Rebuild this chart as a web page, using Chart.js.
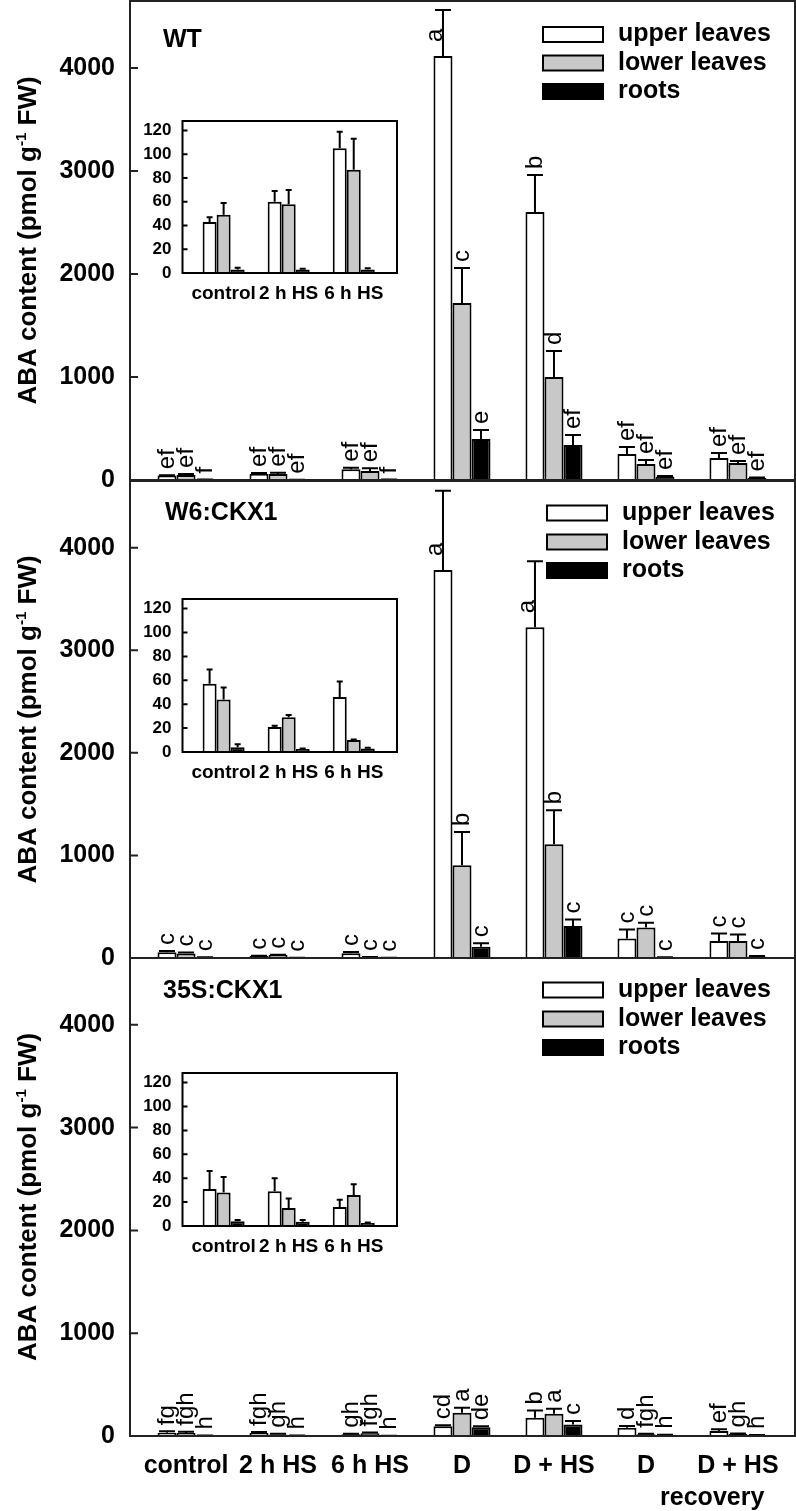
<!DOCTYPE html>
<html>
<head>
<meta charset="utf-8">
<script src="https://cdn.jsdelivr.net/npm/chart.js@4"></script>
<style>
  body { margin: 0; background: #fff; }
  #wrap { position: relative; width: 796px; height: 1511px; overflow: hidden; background: #fff; }
  canvas { position: absolute; }
</style>
</head>
<body>
<div id="wrap">
  <canvas id="mainWT" width="796" height="495" style="left:0;top:0"></canvas>
  <canvas id="mainW6" width="796" height="494" style="left:0;top:479px"></canvas>
  <canvas id="main35S" width="796" height="555" style="left:0;top:956px"></canvas>
  <canvas id="insetWT" width="282" height="192" style="left:120px;top:115px"></canvas>
  <canvas id="insetW6" width="282" height="193" style="left:120px;top:593px"></canvas>
  <canvas id="inset35S" width="282" height="193" style="left:120px;top:1067px"></canvas>
</div>
<script>
const categories = ['control', '2 h HS', '6 h HS', 'D', 'D + HS', 'D', 'D + HS'];
const seriesNames = ['upper leaves', 'lower leaves', 'roots'];
const mainTicks = [0, 1000, 2000, 3000, 4000];
const insetTicks = [0, 20, 40, 60, 80, 100, 120];

// WT
const wtUpper = [43, 60, 105, 4117, 2602, 252, 213];
const wtUpperErr = [4, 9, 14, 446, 359, 68, 49];
const wtLower = [49, 58, 87, 1718, 1000, 155, 165];
const wtLowerErr = [10, 12, 26, 340, 252, 39, 20];
const wtRoots = [3, 3, 3, 398, 340, 35, 20];
const wtRootsErr = [1.5, 0.5, 1, 87, 97, 5, 5];
const wtUpperSig = ['ef', 'ef', 'ef', 'a', 'b', 'ef', 'ef'];
const wtLowerSig = ['ef', 'ef', 'ef', 'c', 'd', 'ef', 'ef'];
const wtRootsSig = ['f', 'ef', 'f', 'e', 'ef', 'ef', 'ef'];

// W6:CKX1
const w6Upper = [57, 21, 46, 3783, 3224, 191, 165];
const w6UpperErr = [12, 1, 13, 772, 643, 88, 75];
const w6Lower = [44, 29, 10, 905, 1110, 298, 165];
const w6LowerErr = [10, 2, 0.5, 324, 330, 46, 65];
const w6Roots = [4, 2.5, 3, 110, 311, 5, 15];
const w6RootsErr = [2.5, 0.5, 0.5, 33, 65, 2, 5];
const w6UpperSig = ['c', 'c', 'c', 'a', 'a', 'c', 'c'];
const w6LowerSig = ['c', 'c', 'c', 'b', 'b', 'c', 'c'];
const w6RootsSig = ['c', 'c', 'c', 'c', 'c', 'c', 'c'];

// 35S:CKX1
const s35Upper = [31, 29, 16, 95, 178, 81, 49];
const s35UpperErr = [15, 11, 6, 10, 71, 16, 16];
const s35Lower = [28, 15, 26, 227, 217, 16, 20];
const s35LowerErr = [13, 8, 9, 48, 49, 5, 5];
const s35Roots = [4, 3.5, 2.5, 85, 113, 10, 8];
const s35RootsErr = [1, 1.5, 0.5, 10, 33, 2, 2];
const s35UpperSig = ['fg', 'fgh', 'gh', 'cd', 'b', 'd', 'ef'];
const s35LowerSig = ['fgh', 'gh', 'fgh', 'a', 'a', 'fgh', 'gh'];
const s35RootsSig = ['h', 'h', 'h', 'de', 'c', 'h', 'h'];

const fills = ['#ffffff', '#c8c8c8', '#000000'];
const FONT = '"Liberation Sans", Arial, sans-serif';

Chart.defaults.font.family = FONT;
Chart.defaults.font.weight = 'bold';
Chart.defaults.color = '#000';

function barSets(values, errors, letters, pct) {
    return values.map(function (vals, k) {
        return {
            label: seriesNames[k],
            data: vals.map(function (v, i) { return { x: i, y: v }; }),
            errors: errors[k],
            letters: letters ? letters[k] : null,
            backgroundColor: fills[k],
            borderColor: '#000',
            borderWidth: 2,
            borderSkipped: 'start',
            categoryPercentage: pct,
            barPercentage: 1
        };
    });
}

function noPad(s) {
    s.paddingTop = 0; s.paddingBottom = 0; s.paddingLeft = 0; s.paddingRight = 0;
}

// frame round the plot area and inward y ticks
function framePlugin(tickLen, color) {
    return {
        id: 'frame',
        afterDraw: function (chart) {
            const a = chart.chartArea, ctx = chart.ctx, y = chart.scales.y;
            ctx.save();
            ctx.strokeStyle = color;
            ctx.lineWidth = 2;
            ctx.strokeRect(a.left, a.top, a.right - a.left, a.bottom - a.top);
            ctx.beginPath();
            y.ticks.forEach(function (t) {
                const py = y.getPixelForValue(t.value);
                ctx.moveTo(a.left, py);
                ctx.lineTo(a.left + tickLen, py);
            });
            ctx.stroke();
            ctx.restore();
        }
    };
}

// upper whiskers plus significance letters
function errorPlugin(cap) {
    return {
        id: 'errorBars',
        afterDatasetsDraw: function (chart) {
            const ctx = chart.ctx, y = chart.scales.y;
            ctx.save();
            ctx.strokeStyle = '#000';
            ctx.fillStyle = '#000';
            ctx.lineWidth = 2;
            chart.data.datasets.forEach(function (ds, k) {
                const meta = chart.getDatasetMeta(k);
                meta.data.forEach(function (bar, i) {
                    const v = ds.data[i].y, e = ds.errors[i];
                    const top = y.getPixelForValue(v + e);
                    ctx.beginPath();
                    ctx.moveTo(bar.x, bar.y);
                    ctx.lineTo(bar.x, top);
                    ctx.moveTo(bar.x - cap / 2, top);
                    ctx.lineTo(bar.x + cap / 2, top);
                    ctx.stroke();
                    if (!ds.letters) return;
                    let lx = bar.x, ly = top - 6;
                    if (e > 400) { lx = bar.x - 8; ly = bar.y - 14; }
                    ctx.save();
                    ctx.translate(lx, ly);
                    ctx.rotate(-Math.PI / 2);
                    ctx.font = '24px ' + FONT;
                    ctx.textAlign = 'left';
                    ctx.textBaseline = 'middle';
                    ctx.fillText(ds.letters[i], 0, 0);
                    ctx.restore();
                });
            });
            ctx.restore();
        }
    };
}

function decorPlugin(p) {
    return {
        id: 'decor',
        afterDraw: function (chart) {
            const ctx = chart.ctx, a = chart.chartArea;
            ctx.save();
            ctx.fillStyle = '#000';
            ctx.textAlign = 'left';
            ctx.textBaseline = 'middle';
            ctx.font = 'bold 25px ' + FONT;
            ctx.fillText(p.name, p.nameX, a.top + p.nameDy);

            ctx.lineWidth = 2;
            ctx.strokeStyle = '#000';
            p.legendRows.forEach(function (dy, k) {
                const cy = a.top + dy;
                ctx.fillStyle = fills[k];
                ctx.fillRect(p.boxX, cy - 7.5, 60, 15);
                ctx.strokeRect(p.boxX, cy - 7.5, 60, 15);
                ctx.fillStyle = '#000';
                ctx.fillText(seriesNames[k], p.boxX + 75, cy);
            });

            if (p.recovery) {
                ctx.textAlign = 'center';
                ctx.fillText('recovery', chart.scales.x.getPixelForValue(5.72), a.bottom + 62);
            }

            // y title with superscript
            const big = 'bold 26px ' + FONT, small = 'bold 15px ' + FONT;
            const s1 = 'ABA content (pmol g', s2 = '-1', s3 = ' FW)';
            ctx.font = big;
            const w1 = ctx.measureText(s1).width, w3 = ctx.measureText(s3).width;
            ctx.font = small;
            const w2 = ctx.measureText(s2).width;
            ctx.translate(36, (a.top + a.bottom) / 2);
            ctx.rotate(-Math.PI / 2);
            ctx.textAlign = 'left';
            ctx.textBaseline = 'alphabetic';
            let x = -(w1 + w2 + w3) / 2;
            ctx.font = big; ctx.fillText(s1, x, 0); x += w1;
            ctx.font = small; ctx.fillText(s2, x, -10); x += w2;
            ctx.font = big; ctx.fillText(s3, x, 0);
            ctx.restore();
        }
    };
}

function plainNumber(v) { return String(v); }

function mainChart(id, values, errors, letters, p, pad) {
    return new Chart(document.getElementById(id), {
        type: 'bar',
        data: { datasets: barSets(values, errors, letters, 0.62) },
        options: {
            responsive: false,
            animation: false,
            events: [],
            layout: { padding: pad },
            plugins: { legend: { display: false }, tooltip: { enabled: false } },
            scales: {
                x: {
                    type: 'linear', min: -0.609, max: 6.62, offset: false,
                    grid: { display: false, drawTicks: false, offset: false },
                    border: { display: false },
                    ticks: {
                        display: p.showX, autoSkip: false, maxRotation: 0, padding: 15,
                        font: { size: 25, weight: 'bold' },
                        callback: function (v) { return categories[v] || ''; }
                    },
                    afterBuildTicks: function (s) { s.ticks = categories.map(function (c, i) { return { value: i }; }); },
                    afterFit: function (s) { s.height = p.showX ? 75 : 0; noPad(s); }
                },
                y: {
                    min: 0, max: 4650,
                    grid: { display: false, drawTicks: false },
                    border: { display: false },
                    ticks: { padding: 15, font: { size: 25, weight: 'bold' }, callback: plainNumber },
                    afterBuildTicks: function (s) { s.ticks = mainTicks.map(function (v) { return { value: v }; }); },
                    afterFit: function (s) { s.width = 130; noPad(s); }
                }
            }
        },
        plugins: [framePlugin(8, '#222'), errorPlugin(16), decorPlugin(p)]
    });
}

function insetChart(id, values, errors) {
    const short = values.map(function (v) { return v.slice(0, 3); });
    const shortErr = errors.map(function (v) { return v.slice(0, 3); });
    return new Chart(document.getElementById(id), {
        type: 'bar',
        data: { datasets: barSets(short, shortErr, null, 0.646) },
        options: {
            responsive: false,
            animation: false,
            events: [],
            layout: { padding: { top: 6, right: 5, bottom: 6, left: 0 } },
            plugins: { legend: { display: false }, tooltip: { enabled: false } },
            scales: {
                x: {
                    type: 'linear', min: -0.632, max: 2.665, offset: false,
                    grid: { display: false, drawTicks: false, offset: false },
                    border: { display: false },
                    ticks: {
                        autoSkip: false, maxRotation: 0, padding: 9,
                        font: { size: 19, weight: 'bold' },
                        callback: function (v) { return categories[v] || ''; }
                    },
                    afterBuildTicks: function (s) { s.ticks = [0, 1, 2].map(function (i) { return { value: i }; }); },
                    afterFit: function (s) { s.height = 28; noPad(s); }
                },
                y: {
                    min: 0, max: 128,
                    grid: { display: false, drawTicks: false },
                    border: { display: false },
                    ticks: { padding: 11, font: { size: 17, weight: 'bold' }, callback: plainNumber },
                    afterBuildTicks: function (s) { s.ticks = insetTicks.map(function (v) { return { value: v }; }); },
                    afterFit: function (s) { s.width = 62.5; noPad(s); }
                }
            }
        },
        plugins: [framePlugin(5, '#000'), errorPlugin(6)]
    });
}

const wtVals = [wtUpper, wtLower, wtRoots], wtErrs = [wtUpperErr, wtLowerErr, wtRootsErr];
const w6Vals = [w6Upper, w6Lower, w6Roots], w6Errs = [w6UpperErr, w6LowerErr, w6RootsErr];
const s35Vals = [s35Upper, s35Lower, s35Roots], s35Errs = [s35UpperErr, s35LowerErr, s35RootsErr];

mainChart('mainWT', wtVals, wtErrs, [wtUpperSig, wtLowerSig, wtRootsSig],
    { name: 'WT', nameX: 163, nameDy: 39, boxX: 543, legendRows: [33.5, 62, 90.5], showX: false },
    { top: 1, right: 1, bottom: 15, left: 0 });
mainChart('mainW6', w6Vals, w6Errs, [w6UpperSig, w6LowerSig, w6RootsSig],
    { name: 'W6:CKX1', nameX: 165, nameDy: 32, boxX: 547, legendRows: [32, 61, 89.5], showX: false },
    { top: 2, right: 1, bottom: 15, left: 0 });
mainChart('main35S', s35Vals, s35Errs, [s35UpperSig, s35LowerSig, s35RootsSig],
    { name: '35S:CKX1', nameX: 163, nameDy: 33, boxX: 543, legendRows: [32, 61, 89.5], showX: true, recovery: true },
    { top: 2, right: 1, bottom: 0, left: 0 });

insetChart('insetWT', wtVals, wtErrs);
insetChart('insetW6', w6Vals, w6Errs);
insetChart('inset35S', s35Vals, s35Errs);
</script>
</body>
</html>
